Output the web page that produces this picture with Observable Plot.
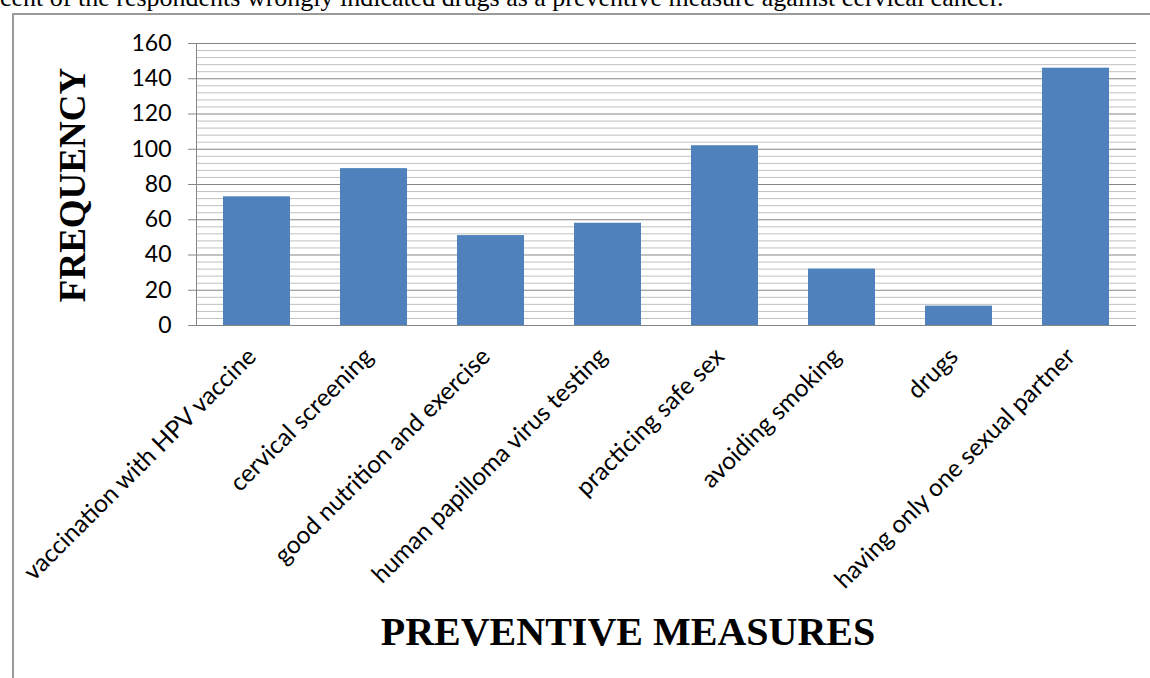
<!DOCTYPE html>
<html><head><meta charset="utf-8">
<script src="https://cdn.jsdelivr.net/npm/d3@7"></script>
<script src="https://cdn.jsdelivr.net/npm/@observablehq/plot@0.6"></script>
<style>
html,body{margin:0;padding:0;background:#fff;}
body{width:1150px;height:678px;position:relative;overflow:hidden;}
#caption{position:absolute;left:0;top:-15px;font-family:"Liberation Serif";font-size:26px;white-space:nowrap;line-height:26px;color:#000;}
#frame{position:absolute;left:12px;top:13px;width:1200px;height:700px;border-left:2px solid #9a9a9a;border-top:2px solid #9a9a9a;}
#chart{position:absolute;left:0;top:0;}
#ytitle{position:absolute;left:72px;top:185px;transform:translate(-50%,-50%) rotate(-90deg);font-family:"Liberation Serif";font-weight:bold;font-size:37px;white-space:nowrap;line-height:1;}
#xtitle{position:absolute;left:628px;top:632px;transform:translate(-50%,-50%);font-family:"Liberation Serif";font-weight:bold;font-size:40px;white-space:nowrap;line-height:1;}
</style></head>
<body>
<div id="caption">cent of the respondents wrongly indicated drugs as a preventive measure against cervical cancer.</div>
<div id="frame"></div>
<div id="chart"></div>
<div id="ytitle">FREQUENCY</div>
<div id="xtitle">PREVENTIVE MEASURES</div>
<script>
const categories = [
  "vaccination with HPV vaccine",
  "cervical screening",
  "good nutrition and exercise",
  "human papilloma virus testing",
  "practicing safe sex",
  "avoiding smoking",
  "drugs",
  "having only one sexual partner"
];
const frequency = [73, 89, 51, 58, 102, 32, 11, 146];
const majorTicks = [0, 20, 40, 60, 80, 100, 120, 140, 160];
const minorTicks = d3.range(0, 161, 4).filter(v => v % 20 !== 0);

const data = categories.map((c, i) => ({measure: c, frequency: frequency[i]}));

const chart = Plot.plot({
  width: 1150,
  height: 678,
  marginLeft: 196,
  marginRight: 14,
  marginTop: 43,
  marginBottom: 353,
  style: {background: "transparent", overflow: "visible"},
  x: {domain: categories, paddingInner: 0.43, paddingOuter: 0.215, label: null},
  y: {domain: [0, 160], label: null},
  marks: [
    Plot.gridY(minorTicks, {stroke: "#c0c0c0", strokeOpacity: 1}),
    Plot.gridY(majorTicks, {stroke: "#868686", strokeOpacity: 1}),
    Plot.barY(data, {x: "measure", y: "frequency", fill: "#4f81bd"}),
    Plot.frame({anchor: "left", stroke: "#868686"}),
    Plot.axisY(majorTicks, {tickSize: 8, tickPadding: 17, fontSize: 23, fontFamily: "Lato", stroke: "#868686", fill: "#000", label: null}),
    Plot.axisX({tickSize: 0, tickRotate: -45, tickPadding: 10, dx: -5, dy: 17, fontSize: 24.5, fontFamily: "Lato", fill: "#000", label: null})
  ]
});
document.getElementById("chart").appendChild(chart);
</script>
</body></html>
